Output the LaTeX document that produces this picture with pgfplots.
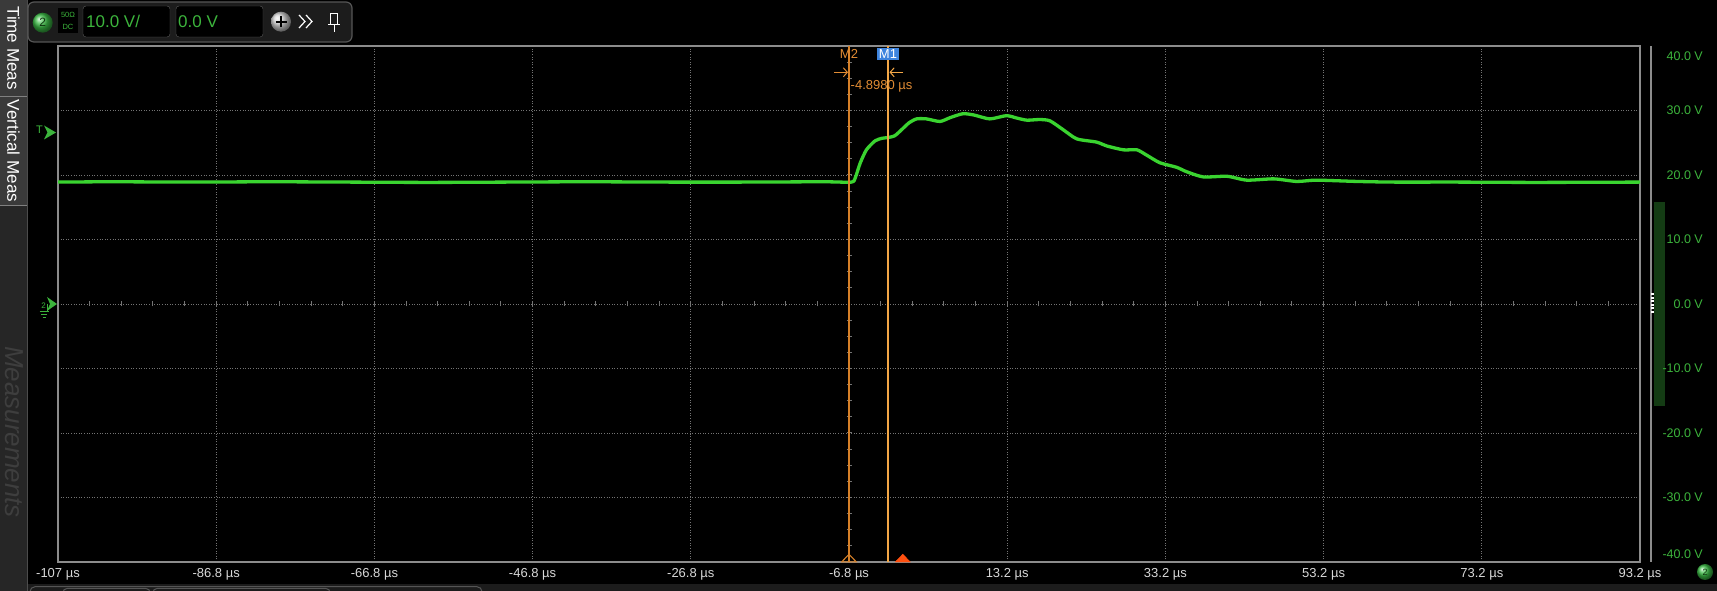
\documentclass[border=0pt]{standalone}
\usepackage{pgfplots}
\pgfplotsset{compat=1.18}
\usepackage{fontspec}
\setmainfont{Liberation Sans}
\usetikzlibrary{arrows.meta}
\newcommand\fs[1]{\fontsize{#1}{#1}\selectfont}
\definecolor{leftstrip}{HTML}{262626}
\definecolor{tabgray}{HTML}{3A3A3A}
\definecolor{gridgray}{HTML}{747474}
\definecolor{bordergray}{HTML}{8C8C8C}
\definecolor{trace}{RGB}{58,212,48}
\definecolor{mtwo}{RGB}{214,128,40}
\definecolor{mone}{RGB}{242,166,70}
\definecolor{mlabel}{RGB}{226,140,52}
\definecolor{mblue}{RGB}{62,132,222}
\definecolor{trig}{RGB}{255,80,16}
\definecolor{vgreen}{RGB}{60,180,60}
\definecolor{ticktext}{HTML}{D8D8D8}
\definecolor{gbar}{RGB}{20,60,20}
\definecolor{panel}{HTML}{1C1C1C}
\definecolor{outl}{HTML}{555555}
\definecolor{fieldb}{HTML}{5A5A5A}
\definecolor{darkg}{RGB}{15,50,15}
\definecolor{ballg}{RGB}{60,190,70}
\definecolor{ballw}{RGB}{215,215,215}
\definecolor{meas}{RGB}{62,62,62}
\begin{document}
\begin{tikzpicture}[x=1pt,y=1pt]
\useasboundingbox (0,0) rectangle (1717,591);
\fill[black] (0,0) rectangle (1717,591);
% bottom strip
\fill[panel] (0,0) rectangle (1717,7);
\draw[outl, line width=1pt, rounded corners=5pt] (30,-8) rectangle (482,4.3);
\draw[outl, line width=1pt, rounded corners=4pt] (63,-8) rectangle (150,2.5);
\draw[outl, line width=1pt, rounded corners=4pt] (153,-8) rectangle (330,2.5);
% left strip
\fill[leftstrip] (0,0) rectangle (27,591);
\fill[tabgray] (0,495) rectangle (27,591);
\draw[gray] (0,495) -- (27,495);
\fill[tabgray] (0,386) rectangle (27,494);
\draw[gray] (0,386) -- (27,386);
\draw[black!70] (27,0) -- (27,591);
\node[rotate=-90, text=white, font=\fs{17}] at (13.5,543) {Time Meas};
\node[rotate=-90, text=white, font=\fs{17}] at (13.5,440) {Vertical Meas};
\node[rotate=-90, text=meas, font=\fs{26}\itshape] at (14,159) {Measurements};
% toolbar
\draw[fill=panel, draw=outl, line width=1.2pt, rounded corners=6pt] (28,549) rectangle (352,589);
\shade[ball color=ballg] (42.7,568.3) circle (10);
\node[font=\fs{12}, text=darkg] at (42.7,568.3) {2};
\fill[black] (58,558) rectangle (78,583);
\node[font=\fs{7.5}, text=vgreen] at (68,576) {50Ω};
\node[font=\fs{7.5}, text=vgreen] at (68,564.5) {DC};
\draw[fill=black, draw=fieldb, rounded corners=3pt] (83,554) rectangle (170,585);
\node[anchor=west, font=\fs{17}, text=vgreen, inner sep=0pt] at (86,569.5) {10.0 V/};
\draw[fill=black, draw=fieldb, rounded corners=3pt] (176,554) rectangle (263,585);
\node[anchor=west, font=\fs{17}, text=vgreen, inner sep=0pt] at (178,569.5) {0.0 V};
\shade[ball color=ballw] (281,569.3) circle (10);
\draw[black, line width=1.8pt] (275.5,569.3) -- (286.5,569.3) (281,563.8) -- (281,574.8);
\draw[white, line width=1.2pt] (299,576) -- (305,569.5) -- (299,563) (306,576) -- (312,569.5) -- (306,563);
\draw[white, line width=1pt] (330.5,566) rectangle (337.5,577) (328,566) -- (340,566) (334,566) -- (334,559);
% right side
\fill[gbar] (1654,185) rectangle (1665,389);
\draw[bordergray, line width=1.5pt] (1651,29) -- (1651,545);
\draw[white, line width=3pt, dash pattern=on 2pt off 1.6pt] (1652,278) -- (1652,298);
\shade[ball color=ballg] (1705,19) circle (8);
\node[font=\fs{9}, text=darkg] at (1705,19) {2};
% graticule center ticks
\begin{axis}[at={(58pt,29pt)}, anchor=south west, scale only axis,
  width=1582pt, height=516pt,
  xmin=-100, xmax=100, ymin=-40, ymax=40,
  axis lines=center, axis line style={draw=none},
  xtick={-96,-92,...,96}, ytick={-37.5,-35,...,37.5},
  xticklabels={}, yticklabels={},
  tick style={gridgray, line width=1pt}, major tick length=5pt, tick align=center]
\addplot[draw=none] coordinates {(0,0)};
\end{axis}
% main axis
\begin{axis}[at={(58pt,29pt)}, anchor=south west, scale only axis,
  width=1582pt, height=516pt,
  xmin=-106.8, xmax=93.2, ymin=-40, ymax=40,
  axis line style={draw=bordergray, line width=1.2pt},
  xtick={-106.8,-86.8,-66.8,-46.8,-26.8,-6.8,13.2,33.2,53.2,73.2,93.2},
  xticklabels={-107 µs,-86.8 µs,-66.8 µs,-46.8 µs,-26.8 µs,-6.8 µs,13.2 µs,33.2 µs,53.2 µs,73.2 µs,93.2 µs},
  ytick={-40,-30,...,40}, yticklabels={},
  major tick length=0pt,
  grid=major, grid style={gridgray, line width=0.9pt, dash pattern=on 1pt off 1.6pt},
  xticklabel style={font=\fs{13}, text=ticktext, anchor=center, yshift=-12.5pt}]
\addplot[trace, line width=3.3pt, line join=round, smooth, tension=0.4] coordinates {
(-106.8,18.9) (-100,18.95) (-90,18.9) (-80,18.95) (-70,18.9) (-60,18.85) (-50,18.9)
(-40,18.95) (-30,18.9) (-20,18.9) (-10,18.95) (-6.5,18.9) (-6.0,19.6) (-5.4,21.8)
(-4.6,23.9) (-3.5,25.3) (-2.6,25.7) (-1.9,25.8) (-1.0,26.1) (0,27.2) (0.8,28.1)
(1.75,28.7) (3.0,28.7) (4.7,28.3) (6.0,28.9) (7.6,29.5) (9.0,29.3) (11.0,28.7)
(13.1,29.2) (14.5,28.8) (15.7,28.5) (17.3,28.6) (18.6,28.4) (20.3,27.0) (22.0,25.6)
(24.5,25.1) (25.8,24.5) (27.9,23.9) (29.6,23.9) (30.8,23.1) (32.5,21.9) (34.6,21.2)
(35.9,20.5) (38.0,19.7) (41.0,19.8) (43.5,19.2) (46.9,19.4) (49.8,19.0) (52.3,19.2)
(57.4,19.0) (62,18.9) (70,18.9) (80,18.85) (93.2,18.9)};
\addplot[mtwo, line width=1.6pt] coordinates {(-6.8,-40) (-6.8,40)};
\addplot[mone, line width=1.9pt] coordinates {(-1.9,-40) (-1.9,40)};
\addplot[only marks, mark=triangle, mark size=8.5pt,
  mark options={yshift=2.6pt, yscale=0.6, draw=mtwo, line width=1.1pt}] coordinates {(-6.8,-40)};
\addplot[only marks, mark=triangle*, mark size=8.7pt,
  mark options={yshift=2.6pt, yscale=0.6, draw=trig, fill=trig}] coordinates {(0,-40)};
\end{axis}
% y labels
\foreach \v/\y in {40.0 V/535,30.0 V/480.5,20.0 V/416,10.0 V/351.5,0.0 V/287,-10.0 V/222.5,-20.0 V/158,-30.0 V/93.5,-40.0 V/36.5}
  \node[anchor=east, text=vgreen, font=\fs{12.5}, inner sep=0pt] at (1703,\y) {\v};
% cursor labels
\node[text=mlabel, font=\fs{13}] at (849,537) {M2};
\node[fill=mblue, text=white, font=\fs{13}, inner sep=1.6pt] at (888,537) {M1};
\draw[mlabel, line width=1pt, -{Straight Barb[length=4pt,width=9pt]}] (834,518.7) -- (848,518.7);
\draw[mone, line width=1pt, -{Straight Barb[length=4pt,width=9pt]}] (903,518.7) -- (889.5,518.7);
\node[anchor=west, text=mlabel, font=\fs{13}, inner sep=0pt] at (850.5,504.3) {-4.8980 µs};
% left markers
\node[text=vgreen, font=\fs{11}, inner sep=0pt] at (39.5,461) {T};
\fill[vgreen] (44,465.5) -- (56,458.5) -- (44,451.5) -- (47.5,458.5) -- cycle;
\fill[vgreen] (47,294) -- (57,287) -- (47,280) -- (50,287) -- cycle;
\node[text=vgreen, font=\fs{8}, inner sep=0pt] at (43.5,285) {2};
\draw[vgreen, line width=1pt] (47,287) -- (47,279) (39.5,279) -- (48.5,279) (41,276) -- (47,276) (42.5,273) -- (45.5,273);
\end{tikzpicture}
\end{document}
